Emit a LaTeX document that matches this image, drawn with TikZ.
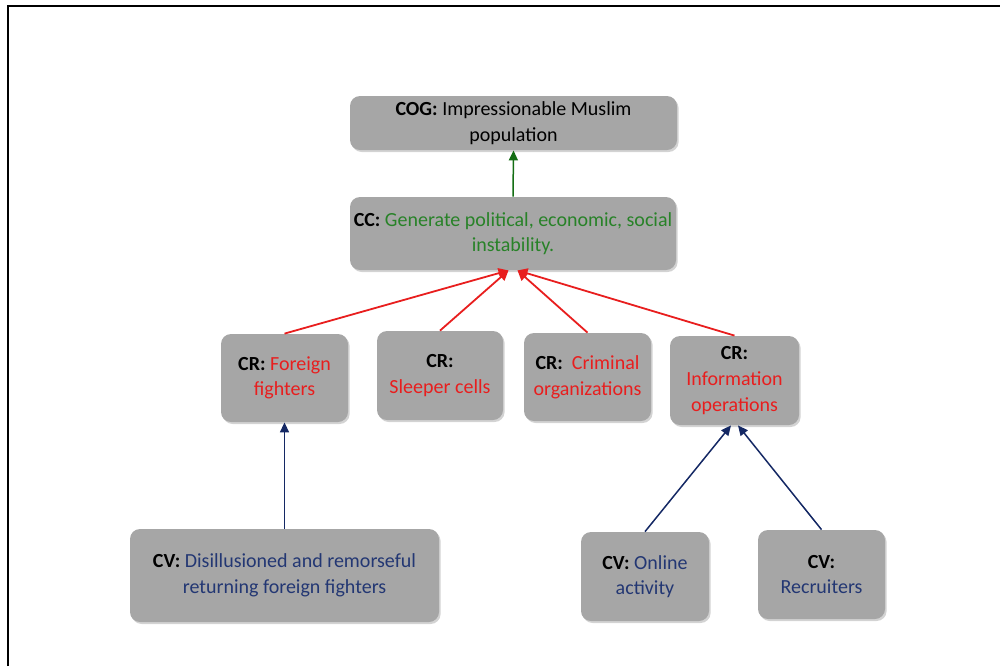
\documentclass[tikz,border=0pt]{standalone}
\usepackage{fontspec}
\setmainfont{Carlito}
\usetikzlibrary{arrows.meta,shadows}
\definecolor{boxgray}{RGB}{166,166,166}
\definecolor{txtgreen}{RGB}{40,130,40}
\definecolor{txtred}{RGB}{232,30,30}
\definecolor{txtblue}{RGB}{35,55,115}
\definecolor{arrblue}{RGB}{20,40,100}
\definecolor{arrgreen}{RGB}{20,110,20}
\begin{document}
\begin{tikzpicture}[x=0.5pt,y=-0.5pt,
  box/.style={draw=none, fill=boxgray, rounded corners=5pt, align=center, inner sep=0pt,
    drop shadow={shadow xshift=0.8pt,shadow yshift=-1pt,opacity=0.35},
    font=\fontsize{10}{12.8}\selectfont},
  redarr/.style={draw=txtred, line width=0.9pt, -{Triangle[length=5pt,width=5pt]}},
  bluearr/.style={draw=arrblue, line width=0.75pt, -{Triangle[length=5pt,width=4.5pt]}},
  greenarr/.style={draw=arrgreen, line width=0.75pt, -{Triangle[length=5pt,width=4.5pt]}},
]
\useasboundingbox (0,0) rectangle (1000,666);
\draw[line width=1.2pt] (8,666) -- (8,6) -- (1000,6);

\node[box, minimum width=163.5pt, minimum height=27pt] (cog) at (513.5,123)
  {\textbf{COG:} Impressionable Muslim\\population};
\node[box, minimum width=163pt, minimum height=36.5pt] (cc) at (513,233.5)
  {\textbf{CC:} \textcolor{txtgreen}{Generate political, economic, social}\\\textcolor{txtgreen}{instability.}};
\node[box, minimum width=63.5pt, minimum height=44pt] (crf) at (284.5,378)
  {\textbf{CR:} \textcolor{txtred}{Foreign}\\\textcolor{txtred}{fighters}};
\node[box, minimum width=63pt, minimum height=44.5pt] (crs) at (440,375.5)
  {\textbf{CR:}\\\textcolor{txtred}{Sleeper cells}};
\node[box, minimum width=63.5pt, minimum height=44pt] (crc) at (587.5,377)
  {\textbf{CR:}~ \textcolor{txtred}{Criminal}\\\textcolor{txtred}{organizations}};
\node[box, minimum width=64.5pt, minimum height=44.5pt] (cri) at (734.5,380.5)
  {\textbf{CR:}\\\textcolor{txtred}{Information}\\\textcolor{txtred}{operations}};
\node[box, minimum width=154.5pt, minimum height=46.5pt] (cvd) at (284.5,575.5)
  {\textbf{CV:} \textcolor{txtblue}{Disillusioned and remorseful}\\\textcolor{txtblue}{returning foreign fighters}};
\node[box, minimum width=64pt, minimum height=44.5pt] (cvo) at (645,576.5)
  {\textbf{CV:} \textcolor{txtblue}{Online}\\\textcolor{txtblue}{activity}};
\node[box, minimum width=63.5pt, minimum height=44.5pt] (cvr) at (821.5,574.5)
  {\textbf{CV:}\\\textcolor{txtblue}{Recruiters}};

\draw[greenarr] (cc.north) -- (cog.south);
\draw[redarr] (crf.north) -- ([xshift=-2.25pt]cc.south);
\draw[redarr] (crs.north) -- ([xshift=-2.25pt]cc.south);
\draw[redarr] (crc.north) -- ([xshift=2.25pt]cc.south);
\draw[redarr] (cri.north) -- ([xshift=2.25pt]cc.south);
\draw[bluearr] (cvd.north) -- (crf.south);
\draw[bluearr] (cvo.north) -- ([xshift=-1.75pt]cri.south);
\draw[bluearr] (cvr.north) -- ([xshift=1.75pt]cri.south);
\end{tikzpicture}
\end{document}
